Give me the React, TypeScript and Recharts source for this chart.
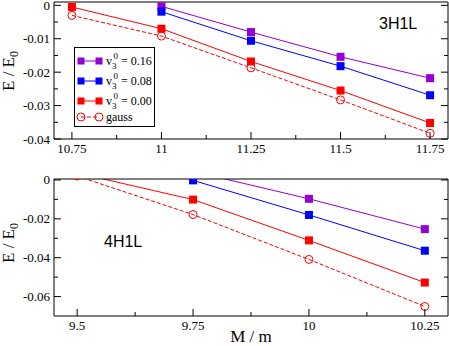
import React from "react"
import { LineChart, Line, XAxis, YAxis } from "recharts"

// top panel (3H1L)
const topX = [10.75, 11, 11.25, 11.5, 11.75]
const top016 = [null, -0.0003, -0.008, -0.0154, -0.0218]
const top008 = [null, -0.0019, -0.0106, -0.0182, -0.0269]
const top000 = [-0.0005, -0.007, -0.0168, -0.0255, -0.0352]
const topGauss = [-0.003, -0.0092, -0.0187, -0.0283, -0.0383]
const topXTicks = [10.75, 11, 11.25, 11.5, 11.75]
const topXMinor = [10.875, 11.125, 11.375, 11.625]
const topYTicks = [0, -0.01, -0.02, -0.03, -0.04]
const topYMinor = [-0.005, -0.015, -0.025, -0.035]

// bottom panel (4H1L)
const botX = [9.5, 9.75, 10, 10.25]
const bot016 = [null, 0.0044, -0.0097, -0.0253]
const bot008 = [null, -0.0002, -0.018, -0.0364]
const bot000 = [0.0036, -0.0101, -0.0311, -0.0528]
const botGauss = [0.002, -0.0178, -0.0409, -0.0651]
const botXTicks = [9.5, 9.75, 10, 10.25]
const botXMinor = [9.625, 9.875, 10.125]
const botYTicks = [0, -0.02, -0.04, -0.06]
const botYMinor = [-0.01, -0.03, -0.05]

const PURPLE = "#9400d3"
const BLUE = "#0000ff"
const RED = "#ff0000"
const SERIF = "'Liberation Serif', 'Times New Roman', 'DejaVu Serif', serif"
const SANS = "'Liberation Sans', Arial, sans-serif"
const MAJ = 7
const MIN = 4

const square = (color: string) => (p: any) => {
  if (p.cy == null || p.cx == null) return <g key={p.index} />
  return <rect key={p.index} x={p.cx - 4} y={p.cy - 4} width={8} height={8} fill={color} />
}

const ring = (p: any) => {
  if (p.cy == null || p.cx == null) return <g key={p.index} />
  return <circle key={p.index} cx={p.cx} cy={p.cy} r={4} fill="none" stroke={RED} strokeWidth={1} />
}

const fmt = (v: number) => (v === 0 ? "0" : String(v))
const isMajor = (majors: number[], v: number) => majors.some((m) => Math.abs(m - v) < 1e-9)

// inward tick marks + labels, one renderer per side
const bottomTick = (majors: number[]) => (p: any) => {
  const maj = isMajor(majors, p.payload.value)
  return (
    <g key={p.index}>
      <line x1={p.x} x2={p.x} y1={p.y} y2={p.y - (maj ? MAJ : MIN)} stroke="#000" />
      {maj && (
        <text x={p.x} y={p.y + 14} textAnchor="middle" fontFamily={SERIF} fontSize={13} fill="#000">
          {fmt(p.payload.value)}
        </text>
      )}
    </g>
  )
}

const leftTick = (majors: number[]) => (p: any) => {
  const maj = isMajor(majors, p.payload.value)
  return (
    <g key={p.index}>
      <line x1={p.x} x2={p.x + (maj ? MAJ : MIN)} y1={p.y} y2={p.y} stroke="#000" />
      {maj && (
        <text x={p.x - 4} y={p.y + 4.5} textAnchor="end" fontFamily={SERIF} fontSize={13} fill="#000">
          {fmt(p.payload.value)}
        </text>
      )}
    </g>
  )
}

const topTick = (majors: number[]) => (p: any) => {
  const maj = isMajor(majors, p.payload.value)
  return <line key={p.index} x1={p.x} x2={p.x} y1={p.y} y2={p.y + (maj ? MAJ : MIN)} stroke="#000" />
}

const rightTick = (majors: number[]) => (p: any) => {
  const maj = isMajor(majors, p.payload.value)
  return <line key={p.index} x1={p.x} x2={p.x - (maj ? MAJ : MIN)} y1={p.y} y2={p.y} stroke="#000" />
}

function axes(xDom: number[], yDom: number[], xMaj: number[], xMin: number[], yMaj: number[], yMin: number[], xh: number) {
  const xt = [...xMaj, ...xMin]
  const yt = [...yMaj, ...yMin]
  return [
    <XAxis key="x" xAxisId="main" dataKey="x" type="number" domain={xDom} ticks={xt} interval={0} allowDataOverflow
      tickLine={false} tickSize={0} tickMargin={0} height={xh} stroke="#000" tick={bottomTick(xMaj)} />,
    <YAxis key="y" yAxisId="main" type="number" domain={yDom} ticks={yt} interval={0} allowDataOverflow
      tickLine={false} tickSize={0} tickMargin={0} width={54} stroke="#000" tick={leftTick(yMaj)} />,
    <XAxis key="t" xAxisId="top" orientation="top" mirror type="number" domain={xDom} ticks={xt} interval={0} allowDataOverflow
      tickLine={false} tickSize={0} tickMargin={0} height={1} stroke="#000" tick={topTick(xMaj)} />,
    <YAxis key="r" yAxisId="right" orientation="right" mirror type="number" domain={yDom} ticks={yt} interval={0} allowDataOverflow
      tickLine={false} tickSize={0} tickMargin={0} width={1} stroke="#000" tick={rightTick(yMaj)} />,
  ]
}

function series() {
  return [
    <Line key="a" xAxisId="main" yAxisId="main" dataKey="a" stroke={PURPLE} strokeWidth={1} dot={square(PURPLE)} isAnimationActive={false} />,
    <Line key="b" xAxisId="main" yAxisId="main" dataKey="b" stroke={BLUE} strokeWidth={1} dot={square(BLUE)} isAnimationActive={false} />,
    <Line key="c" xAxisId="main" yAxisId="main" dataKey="c" stroke={RED} strokeWidth={1} dot={square(RED)} isAnimationActive={false} />,
    <Line key="g" xAxisId="main" yAxisId="main" dataKey="g" stroke={RED} strokeWidth={1} strokeDasharray="4 2" dot={ring} isAnimationActive={false} />,
  ]
}

function VLabel({ x, y }: { x: number; y: number }) {
  return (
    <text transform={`translate(${x},${y}) rotate(-90)`} textAnchor="middle" fontFamily={SERIF} fontSize={17} fill="#000">
      E / E<tspan fontSize={12} dy={4}>0</tspan>
    </text>
  )
}

function LegendRow({ y, color, val }: { y: number; color: string; val: string }) {
  return (
    <g>
      <line x1={81} x2={99} y1={y} y2={y} stroke={color} strokeWidth={1} />
      <rect x={77.5} y={y - 3.5} width={7} height={7} fill={color} />
      <rect x={95.5} y={y - 3.5} width={7} height={7} fill={color} />
      <text x={106} y={y + 4} fontFamily={SERIF} fontSize={12} fill="#000">
        v<tspan fontSize={9} dy={4}>3</tspan>
        <tspan fontSize={9} dy={-10} dx={-3}>0</tspan>
        <tspan dy={6}> = {val}</tspan>
      </text>
    </g>
  )
}

export default function App() {
  const topData = topX.map((x, i) => ({ x, a: top016[i], b: top008[i], c: top000[i], g: topGauss[i] }))
  const botData = botX.map((x, i) => ({ x, a: bot016[i], b: bot008[i], c: bot000[i], g: botGauss[i] }))
  const topXDom = [10.7, 11.8]
  const topYDom = [-0.04, 0.001]
  const botXDom = [9.45, 10.3]
  const botYDom = [-0.07, 0.0005]

  return (
    <div style={{ position: "absolute", left: 0, top: 0, width: 449, height: 346, background: "#fff", fontFamily: SERIF }}>
      <div style={{ position: "absolute", left: 0, top: 0 }}>
        <LineChart width={449} height={160} data={topData} margin={{ top: 2, right: 1, bottom: 0, left: 0 }}>
          {axes(topXDom, topYDom, topXTicks, topXMinor, topYTicks, topYMinor, 21)}
          {series()}
        </LineChart>
      </div>
      <div style={{ position: "absolute", left: 0, top: 160 }}>
        <LineChart width={449} height={186} data={botData} margin={{ top: 19, right: 1, bottom: 0, left: 0 }}>
          {axes(botXDom, botYDom, botXTicks, botXMinor, botYTicks, botYMinor, 30)}
          {series()}
        </LineChart>
      </div>
      <svg width={449} height={346} style={{ position: "absolute", left: 0, top: 0, pointerEvents: "none" }}>
        <VLabel x={14} y={71} />
        <VLabel x={14} y={243} />
        <text x={251} y={342} textAnchor="middle" fontFamily={SERIF} fontSize={17} fill="#000">M / m</text>
        <text x={379} y={29} fontFamily={SANS} fontSize={16} fill="#000">3H1L</text>
        <text x={104} y={247} fontFamily={SANS} fontSize={16} fill="#000">4H1L</text>
        <rect x={74.5} y={47.5} width={80} height={79} fill="#fff" stroke="#000" strokeWidth={1} />
        <LegendRow y={61} color={PURPLE} val="0.16" />
        <LegendRow y={81} color={BLUE} val="0.08" />
        <LegendRow y={101} color={RED} val="0.00" />
        <line x1={81} x2={99} y1={117} y2={117} stroke={RED} strokeWidth={1} strokeDasharray="4 2" />
        <circle cx={81} cy={117} r={4} fill="none" stroke={RED} />
        <circle cx={99} cy={117} r={4} fill="none" stroke={RED} />
        <text x={106} y={121} fontFamily={SERIF} fontSize={12} fill="#000">gauss</text>
      </svg>
    </div>
  )
}
